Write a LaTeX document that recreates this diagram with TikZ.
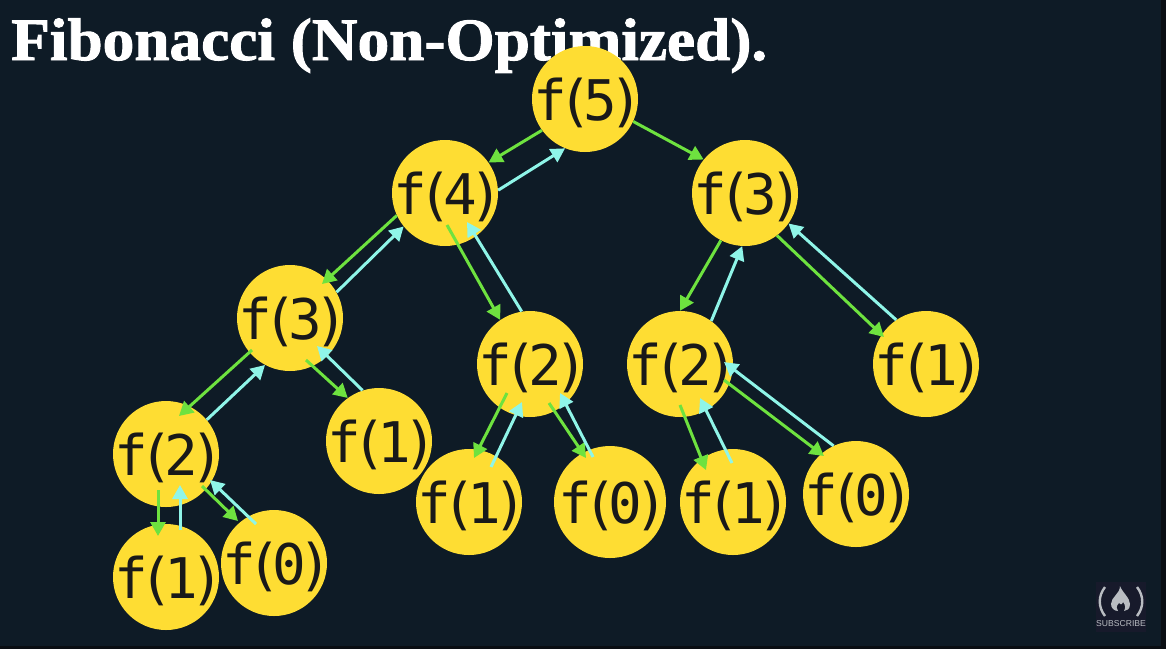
\documentclass[tikz,border=0pt]{standalone}
\usepackage{fontspec}
\setmainfont{Liberation Serif}
\setsansfont{Liberation Sans}
\newfontfamily\callfont[LetterSpace=-15]{DejaVu Sans Mono}
\newfontfamily\titlefont[FakeBold=1.6, FakeStretch=1.055]{Liberation Serif Bold}
\usetikzlibrary{arrows.meta}
\definecolor{slate}{HTML}{0E1B26}
\definecolor{edgedark}{HTML}{0A0E13}
\definecolor{callyellow}{HTML}{FEDD33}
\definecolor{callgreen}{HTML}{6EE23F}
\definecolor{retcyan}{HTML}{8FF5E8}
\definecolor{logobox}{HTML}{171A2B}
\definecolor{logogray}{HTML}{B9BDC2}
\newcommand{\fcall}[1]{\makebox[0pt]{\hspace*{6pt}\raisebox{-21pt}[0pt][0pt]{f(#1)}}}
\tikzset{
	call/.style={circle, fill=callyellow, inner sep=0pt, minimum size=106pt, text=black!90,
		font=\callfont\fontsize{56}{56}\selectfont},
	godown/.style={-{Triangle[length=14pt,width=15pt]}, line width=3pt, callgreen},
	goback/.style={-{Triangle[length=14pt,width=15pt]}, line width=3pt, retcyan},
}

\begin{document}
\begin{tikzpicture}[x=1pt, y=-1pt]
	\useasboundingbox (0,0) rectangle (1166,649);
	\fill [edgedark] (0,0) rectangle (1166,649);
	\fill [slate] (0,0) rectangle (1161,646);
	
	\node [anchor=base west, inner sep=0pt, text=white, font=\titlefont\fontsize{60}{60}\selectfont] (TITLE) at (11,60) {Fibonacci (Non-Optimized).};
	
	\node [call] (F5) at (585,99) {\fcall{5}};
	\node [call] (F4) at (445,193) {\fcall{4}};
	\node [call] (F3R) at (745,193) {\fcall{3}};
	\node [call] (F3L) at (290,318) {\fcall{3}};
	\node [call] (F2M) at (530,364) {\fcall{2}};
	\node [call] (F2R) at (680,364) {\fcall{2}};
	\node [call] (F1R) at (926,364) {\fcall{1}};
	\node [call] (F2L) at (166,454) {\fcall{2}};
	\node [call] (F1L) at (379,441) {\fcall{1}};
	\node [call] (F1M) at (469,502) {\fcall{1}};
	\node [call, minimum size=112pt] (F0M) at (610,502) {\fcall{0}};
	\node [call] (F1S) at (733,502) {\fcall{1}};
	\node [call] (F0S) at (856,494) {\fcall{0}};
	\node [call] (F1B) at (166,577) {\fcall{1}};
	\node [call] (F0B) at (274,563) {\fcall{0}};
	
	% down the tree
	\draw [godown] (F5.216) -- (F4.35);
	\draw [godown] (F5.-25) -- (F3R.141);
	\draw [godown] (F4.205) -- ([shift={(32,-34)}]F3L.center);
	\draw [godown] ([shift={(2,32)}]F4.center) -- (F2M.124);
	\draw [godown] (F3R.243) -- (F2R.90);
	\draw [godown] (F3R.-53) -- ([shift={(-42,-27)}]F1R.center);
	\draw [godown] ([shift={(-38,32)}]F3L.center) -- ([shift={(13,-38)}]F2L.center);
	\draw [godown] ([shift={(16,42)}]F3L.center) -- (F1L.126);
	\draw [godown] ([shift={(-23,29)}]F2M.center) -- ([shift={(5,-44)}]F1M.center);
	\draw [godown] ([shift={(19,39)}]F2M.center) -- ([shift={(-24,-44)}]F0M.center);
	\draw [godown] ([shift={(0,41)}]F2R.center) -- ([shift={(-27,-32)}]F1S.center);
	\draw [godown] ([shift={(44,16)}]F2R.center) -- ([shift={(-32,-38)}]F0S.center);
	\draw [godown] ([shift={(-8,36)}]F2L.center) -- ([shift={(-8,-41)}]F1B.center);
	\draw [godown] ([shift={(36,32)}]F2L.center) -- ([shift={(-36,-42)}]F0B.center);
	
	% back up the tree
	\draw [goback] (F4.3) -- (F5.248);
	\draw [goback] (F3L.29) -- (F4.219);
	\draw [goback] (F2M.99) -- ([shift={(22,29)}]F4.center);
	\draw [goback] (F2R.54) -- (F3R.267);
	\draw [goback] (F1R.124) -- (F3R.-35);
	\draw [goback] (F2L.40) -- (F3L.242);
	\draw [goback] (F1L.108) -- ([shift={(27,28)}]F3L.center);
	\draw [goback] ([shift={(22,-35)}]F1M.center) -- ([shift={(-8,38)}]F2M.center);
	\draw [goback] ([shift={(-17,-45)}]F0M.center) -- ([shift={(30,29)}]F2M.center);
	\draw [goback] ([shift={(-1,-39)}]F1S.center) -- ([shift={(20,34)}]F2R.center);
	\draw [goback] (F0S.115) -- ([shift={(44,-2)}]F2R.center);
	\draw [goback] ([shift={(14,-47)}]F1B.center) -- ([shift={(14,31)}]F2L.center);
	\draw [goback] ([shift={(-18,-39)}]F0B.center) -- ([shift={(44,26)}]F2L.center);
	
	% channel logo
	\fill [logobox] (1096,582) rectangle (1146,632);
	\draw [logogray, line width=2.4pt] (1105,587) .. controls (1098,596) and (1098,607) .. (1105,616);
	\draw [logogray, line width=2.4pt] (1137,587) .. controls (1144,596) and (1144,607) .. (1137,616);
	\fill [logogray] (1120,586) .. controls (1122,592) and (1130,598) .. (1130,604)
		.. controls (1130,609) and (1127,611) .. (1124,611)
		.. controls (1126,608) and (1125,604) .. (1123,602)
		.. controls (1122,605) and (1120,605) .. (1119,603)
		.. controls (1116,606) and (1116,609) .. (1118,611)
		.. controls (1114,611) and (1111,608) .. (1111,604)
		.. controls (1111,597) and (1120,594) .. (1120,586) -- cycle;
	\node [inner sep=0pt, text=logogray, font=\sffamily\fontsize{8.6}{9}\selectfont] (SUBSCRIBE) at (1121,624) {SUBSCRIBE};
\end{tikzpicture}
\end{document}
